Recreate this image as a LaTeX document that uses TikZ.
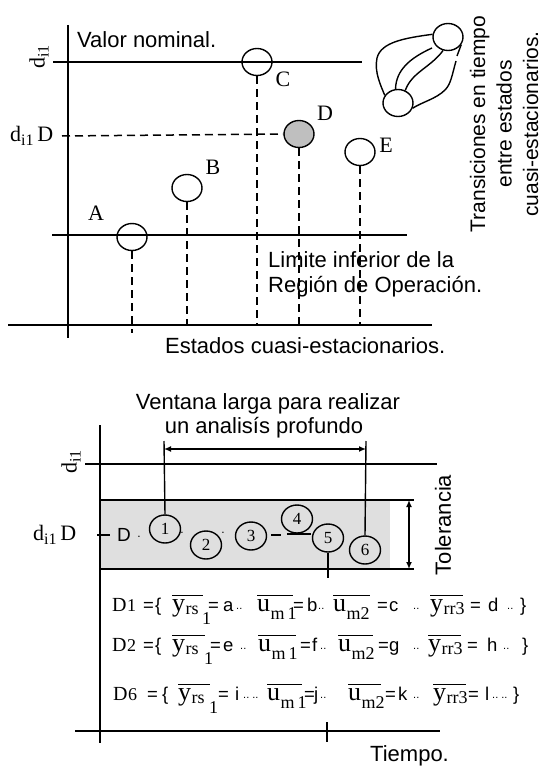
\documentclass[tikz,border=0pt]{standalone}
\usepackage{fontspec}
\setmainfont{Liberation Sans}
\newfontfamily\tms{Liberation Serif}
\usetikzlibrary{shapes.geometric,arrows.meta}
% equation helpers
\newcommand\at[2]{\rlap{\hspace*{#1pt}#2}}
\newcommand\ar{\fontsize{18.5}{18.5}\selectfont}
\newcommand\tb{\tms\fontsize{26}{26}\selectfont}
\newcommand\ts{\tms\fontsize{18}{18}\selectfont}
\newcommand\ob[2]{\vbox{\hrule height 1.4pt\kern3pt\hbox to #1pt{#2\hss}}}
\newcommand\ysub[2]{\ob{#1}{\tb y\hspace{0.5pt}\raisebox{-3pt}{\ts #2}}}
\newcommand\usub[2]{\ob{#1}{\tb u\hspace{0.5pt}\raisebox{-8pt}{\ts #2}}}
\newcommand\Dn[1]{\rlap{\tms\fontsize{20}{20}\selectfont D}\hspace*{15pt}{\ts #1}}
\newcommand\dd{\raisebox{2pt}{\fontsize{11}{11}\selectfont ..}}
\newcommand\dsub{d\raisebox{-4pt}{\fontsize{16}{16}\selectfont i1}}
\begin{document}
\begin{tikzpicture}[x=1pt,y=-1pt,
  ax/.style={line width=1.6pt},
  dsh/.style={line width=1.5pt,dash pattern=on 8pt off 5pt},
  thinl/.style={line width=1.4pt},
  st/.style={draw,ellipse,line width=1.4pt,minimum width=30pt,minimum height=27pt,inner sep=0pt},
  sm/.style={draw,ellipse,line width=1.4pt,minimum width=31pt,minimum height=28pt,inner sep=0pt,font=\tms\fontsize{17}{17}\selectfont},
  lbl/.style={font=\tms\fontsize{22}{22}\selectfont,inner sep=0pt},
  txt/.style={font=\fontsize{22}{26}\selectfont,inner sep=0pt},
  eqn/.style={font=\ar,inner sep=0pt,anchor=base west},
  arr/.style={line width=1.4pt,{Latex[length=7pt,width=6pt]}-{Latex[length=7pt,width=6pt]}},
]
\useasboundingbox (0,0) rectangle (543,768);
% ---------- top diagram ----------
\coordinate (ytop) at (68,25); \coordinate (ybot) at (68,338);
\draw[ax] (ytop) -- (ybot);
\coordinate (nomL) at (53,62); \coordinate (nomR) at (362,62);
\draw[ax] (nomL) -- (nomR);
\coordinate (limL) at (52,235); \coordinate (limR) at (407,235);
\draw[ax] (limL) -- (limR);
\coordinate (xL) at (8,325); \coordinate (xR) at (432,325);
\draw[ax] (xL) -- (xR);

\node[st] (A) at (132,237) {};
\node[st] (B) at (187,188) {};
\node[st] (C) at (257,62) {};
\node[st,fill=gray!50] (D) at (299,134) {};
\node[st] (E) at (360,152) {};

\coordinate (a0) at (132,333); \coordinate (b0) at (187,325);
\coordinate (c0) at (257,325); \coordinate (d0) at (299,325);
\coordinate (e0) at (360,325); \coordinate (dl) at (62,136);
\draw[dsh] (A.south) -- (a0);
\draw[dsh] (B.south) -- (b0);
\draw[dsh] (C.south) -- (c0);
\draw[dsh] (D.south) -- (d0);
\draw[dsh] (E.south) -- (e0);
\draw[dsh] (dl) -- (D.west);

\node[lbl] (lA) at (96,213) {A};
\node[lbl] (lB) at (213,167) {B};
\node[lbl] (lC) at (283,79) {C};
\node[lbl] (lD) at (325,113) {D};
\node[lbl] (lE) at (386,145) {E};
\node[lbl,rotate=90] (ld1) at (39,57) {\dsub};
\node[lbl,anchor=west] (ld2) at (10,136) {\dsub\,D};

\node[txt,anchor=base west] (vn) at (77,48) {Valor nominal.};
\node[txt,anchor=base west] (li1) at (268,267) {Limite inferior de la};
\node[txt,anchor=base west] (li2) at (268,292) {Región de Operación.};
\node[txt,anchor=base west] (ec) at (165,353) {Estados cuasi-estacionarios.};
\node[txt,rotate=90,align=center,font=\fontsize{21}{26.5}\selectfont] (tr) at (504,124) {Transiciones en tiempo\\entre estados\\cuasi-estacionarios.};

% transition icon
\node[st] (t1) at (448,37) {};
\node[st] (t2) at (398,103) {};
\draw[thinl] (t1.170) .. controls (405,38) and (381,42) .. (377,58) .. controls (374,72) and (381,86) .. (t2.150);
\draw[thinl] (432,48) .. controls (410,58) and (396,70) .. (t2.100);
\draw[thinl] (t1.250) .. controls (430,68) and (412,72) .. (t2.60);
\draw[thinl] (t1.330) -- (457,56);
\draw[thinl] (456,61) .. controls (452,75) and (451,84) .. (445,90) .. controls (436,99) and (422,102) .. (t2.340);

% ---------- bottom diagram ----------
\coordinate (y2top) at (100,425); \coordinate (y2bot) at (100,743);
\fill[gray!25] (100,500) rectangle (390,569);
\draw[ax] (y2top) -- (y2bot);
\coordinate (n2L) at (85,464); \coordinate (n2R) at (437,464);
\draw[ax] (n2L) -- (n2R);
\coordinate (bt1) at (100,500); \coordinate (bt2) at (414,500);
\coordinate (bb1) at (100,569); \coordinate (bb2) at (414,569);
\draw[ax] (bt1) -- (bt2);
\draw[ax] (bb1) -- (bb2);
\coordinate (tolT) at (409,500); \coordinate (tolB) at (409,569);
\draw[arr] (tolT) -- (tolB);
\node[txt,rotate=90] (tol) at (443,525) {Tolerancia};

\node[lbl,rotate=90] (ld3) at (71,462) {\dsub};
\node[lbl,anchor=west] (ld4) at (33,535) {\dsub\,D};
\coordinate (tk1) at (97,535); \coordinate (tk2) at (110,535);
\draw[ax] (tk1) -- (tk2);
\node[inner sep=0pt,font=\fontsize{19}{19}\selectfont] (Dd) at (124,535) {D};
\node[inner sep=0pt,font=\fontsize{12}{12}\selectfont] (dt1) at (139,537) {.};

\node[sm] (n1) at (165,529) {1};
\node[sm] (n2) at (206,545) {2};
\node[sm] (n3) at (251,536) {3};
\node[sm] (n4) at (297,519) {4};
\node[sm] (n5) at (328,538) {5};
\node[sm] (n6) at (365,550) {6};
\node[inner sep=0pt,font=\fontsize{12}{12}\selectfont] (dt2) at (182,533) {.};
\node[inner sep=0pt,font=\fontsize{12}{12}\selectfont] (dt3) at (223,533) {.};
\coordinate (ds1) at (271,535); \coordinate (ds2) at (281,535);
\draw[thinl] (ds1) -- (ds2);
\coordinate (u4a) at (287,534); \coordinate (u4b) at (311,534);
\draw[thinl] (u4a) -- (u4b);
\coordinate (t5) at (328,578);
\draw[thinl] (n5.south) -- (t5);

\coordinate (w1) at (164,441); \coordinate (w2) at (366,441);
\draw[thinl] (w1) -- (n1.north);
\draw[thinl] (w2) -- (n6.north);
\coordinate (wa) at (164,449); \coordinate (wb) at (366,449);
\draw[arr] (wa) -- (wb);
\node[txt,anchor=base] (v1) at (268,409) {Ventana larga para realizar};
\node[txt,anchor=base] (v2) at (264,433) {un analisís profundo};

\node[eqn] (e1) at (112,611) {\at{0}{\Dn{1}}\at{31}{=}\at{43}{\{}\at{60}{\ysub{31}{rs}}\at{90}{\raisebox{-13pt}{\ts 1}}\at{96}{=}\at{111}{a}\at{124}{\dd}\at{145}{\usub{36}{m\,1}}\at{181}{=}\at{195}{b}\at{206}{\dd}\at{221}{\usub{37}{m2}}\at{265}{=}\at{277}{c}\at{301}{\dd}\at{318}{\ysub{33}{rr3}}\at{358}{=}\at{376}{d}\at{395}{\dd}\at{408}{\}}\hspace*{415pt}};
\node[eqn] (e2) at (112,651) {\at{0}{\Dn{2}}\at{31}{=}\at{43}{\{}\at{60}{\ysub{33}{rs}}\at{92}{\raisebox{-13pt}{\ts 1}}\at{98}{=}\at{111}{e}\at{128}{\dd}\at{146}{\usub{38}{m\,1}}\at{188}{=}\at{200}{f}\at{208}{\dd}\at{226}{\usub{35}{m2}}\at{266}{=}\at{277}{g}\at{301}{\dd}\at{316}{\ysub{33}{rr3}}\at{355}{=}\at{375}{h}\at{391}{\dd}\at{410}{\}}\hspace*{416pt}};
\node[eqn] (e3) at (113,700) {\at{0}{\Dn{6}}\at{34}{=}\at{49}{\{}\at{65}{\ysub{32}{rs}}\at{96}{\raisebox{-13pt}{\ts 1}}\at{105}{=}\at{122}{i}\at{130}{\dd\,\dd}\at{154}{\usub{35}{m\,1}}\at{191}{=}\at{201}{j}\at{207}{\dd}\at{235}{\usub{33}{m2}}\at{272}{=}\at{285}{k}\at{300}{\dd}\at{320}{\ysub{33}{rr3}}\at{355}{=}\at{372}{l}\at{379}{\dd\,\dd}\at{400}{\}}\hspace*{407pt}};

\coordinate (x2L) at (75,731); \coordinate (x2R) at (440,731);
\draw[ax] (x2L) -- (x2R);
\coordinate (tk3) at (327,722); \coordinate (tk4) at (327,742);
\draw[ax] (tk3) -- (tk4);
\node[txt,anchor=base west] (tp) at (370,761) {Tiempo.};
\end{tikzpicture}
\end{document}
